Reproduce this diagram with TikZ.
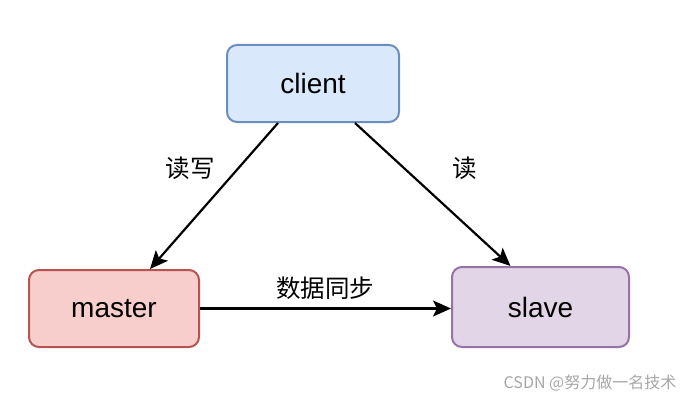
\documentclass[tikz,border=0pt]{standalone}
\usepackage{fontspec}
\setmainfont{Liberation Sans}
\newfontfamily\cjk{Noto Sans CJK SC}
\usetikzlibrary{arrows.meta}
\tikzset{
	x=1pt, y=-1pt,
	box/.style={draw, line width=2pt, rounded corners=10pt, font=\fontsize{28}{32}\selectfont},
	conn/.style={line width=2.2pt, -{Stealth[length=18pt,width=16pt,inset=4pt]}},
	lbl/.style={font=\cjk\fontsize{24.5}{28}\selectfont}
}
\definecolor{clientfill}{HTML}{DAE8FC}
\definecolor{clientline}{HTML}{6C8EBF}
\definecolor{masterfill}{HTML}{F8CECC}
\definecolor{masterline}{HTML}{B85450}
\definecolor{slavefill}{HTML}{E1D5E7}
\definecolor{slaveline}{HTML}{9673A6}

\begin{document}
\begin{tikzpicture}
		\useasboundingbox (0,0) rectangle (688,404);
		\node[box, fill=clientfill, draw=clientline, minimum width=172pt, minimum height=77pt] (client) at (313,83.5) {client};
		\node[box, fill=masterfill, draw=masterline, minimum width=170pt, minimum height=77pt] (master) at (114,308.5) {master};
		\node[box, fill=slavefill, draw=slaveline, minimum width=177pt, minimum height=80pt] (slave) at (540.5,307) {slave};

		\draw[conn] ([xshift=-35pt]client.south) -- ([xshift=36pt]master.north);
		\draw[conn] ([xshift=42pt]client.south) -- ([xshift=-30pt]slave.north);
		\draw[conn] (master.east) -- (master.east -| slave.west);

		\node[lbl] (rw) at (190,168) {读写};
		\node[lbl] (r) at (465,168) {读};
		\node[lbl] (sync) at (325,288) {数据同步};

		\node[font=\cjk\fontsize{16}{18}\selectfont, text=black!35] (mark) at (590,383) {CSDN @努力做一名技术};
	\end{tikzpicture}
\end{document}
